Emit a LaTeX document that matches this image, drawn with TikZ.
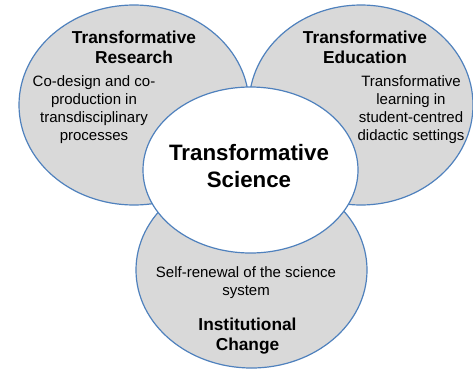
\documentclass[tikz,border=0pt]{standalone}
\usepackage{fontspec}
\setmainfont{Liberation Sans}
\usetikzlibrary{shapes.geometric}
\definecolor{rim}{RGB}{79,129,189}
\definecolor{petal}{RGB}{217,217,217}
\begin{document}
\begin{tikzpicture}[x=1pt,y=-1pt,
  blob/.style={ellipse, draw=rim, line width=1.2pt, inner sep=0pt},
  gray blob/.style={blob, fill=petal},
  headtext/.style={align=center, inner sep=0pt, anchor=base, font=\fontsize{17.3}{20}\selectfont\bfseries},
  bodytext/.style={align=center, inner sep=0pt, anchor=base, font=\fontsize{15}{18}\selectfont},
  coretext/.style={align=center, inner sep=0pt, anchor=base, font=\fontsize{22.3}{27}\selectfont\bfseries}]
\useasboundingbox (0,0) rectangle (473,372);
\node[gray blob, minimum width=230pt, minimum height=200pt] (research) at (134,105) {};
\node[gray blob, minimum width=224pt, minimum height=200pt] (education) at (361,105) {};
\node[gray blob, minimum width=231pt, minimum height=196pt] (change) at (251.5,270) {};
\node[blob, fill=white, minimum width=215pt, minimum height=166pt] (science) at (250.5,170) {};
\node[headtext] (rtitle) at (134,63) {Transformative\\Research};
\node[bodytext] (rbody) at (94,140) {Co-design and co-\\production in\\transdisciplinary\\processes};
\node[headtext] (etitle) at (365,63) {Transformative\\Education};
\node[bodytext] (ebody) at (411,140) {Transformative\\learning in\\student-centred\\didactic settings};
\node[coretext] (stitle) at (249,187) {Transformative\\Science};
\node[bodytext] (cbody) at (246,295) {Self-renewal of the science\\system};
\node[headtext] (ctitle) at (247.5,350) {Institutional\\Change};
\end{tikzpicture}
\end{document}
